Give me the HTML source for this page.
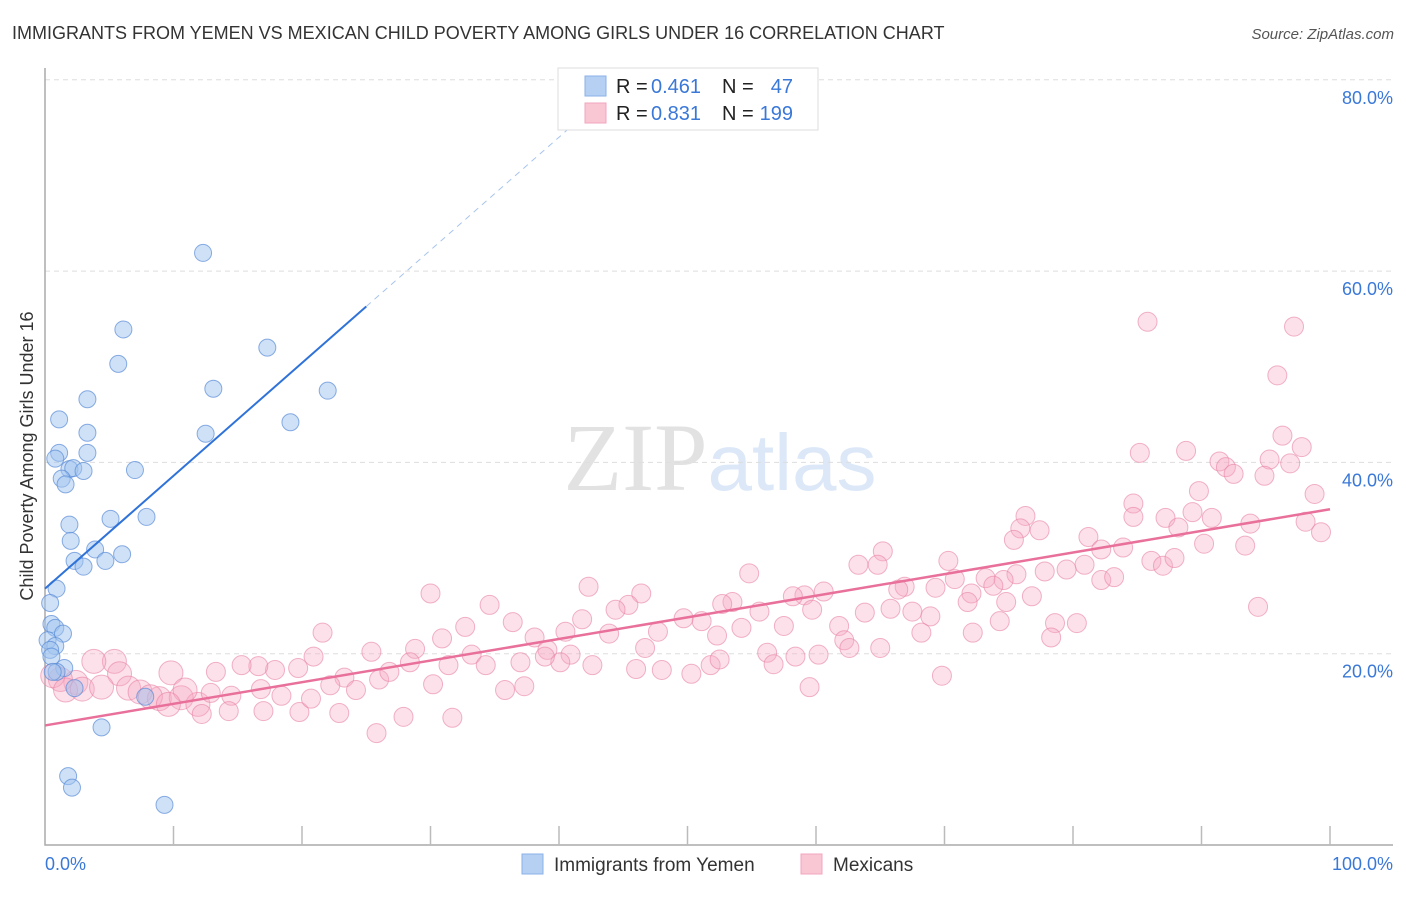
<!DOCTYPE html>
<html><head><meta charset="utf-8"><style>
body{margin:0;background:#fff;width:1406px;height:892px;overflow:hidden;font-family:"Liberation Sans",sans-serif}
</style></head><body>
<svg id="chart" width="1406" height="892" xmlns="http://www.w3.org/2000/svg" font-family="Liberation Sans, sans-serif">
<text x="12" y="39" font-size="18" fill="#333">IMMIGRANTS FROM YEMEN VS MEXICAN CHILD POVERTY AMONG GIRLS UNDER 16 CORRELATION CHART</text>
<text x="1394" y="39" font-size="15" fill="#555" font-style="italic" text-anchor="end">Source: ZipAtlas.com</text>
<text x="720" y="490" font-size="96" text-anchor="middle"><tspan fill="#e2e2e2" font-family="Liberation Serif, serif">ZIP</tspan><tspan fill="#dce8f8" font-size="80">atlas</tspan></text>
<g id="grid"></g>
<g id="axes"></g>
<g id="pink"></g>
<g id="blue"></g>
<g id="lines"></g>
<text transform="translate(33,456) rotate(-90)" font-size="18" fill="#333" text-anchor="middle">Child Poverty Among Girls Under 16</text>
<g>
<rect x="558" y="68" width="260" height="62" fill="#fff" stroke="#ddd"/>
<rect x="585" y="76" width="21" height="20" fill="#b6d0f4" stroke="#8ab2e8"/>
<rect x="585" y="103" width="21" height="20" fill="#f9c6d4" stroke="#f0a6bc"/>
<text x="616" y="93" font-size="20" fill="#222">R =</text>
<text x="651" y="93" font-size="20" fill="#3a78d8">0.461</text>
<text x="722" y="93" font-size="20" fill="#222">N =</text>
<text x="793" y="93" font-size="20" fill="#3a78d8" text-anchor="end">47</text>
<text x="616" y="120" font-size="20" fill="#222">R =</text>
<text x="651" y="120" font-size="20" fill="#3a78d8">0.831</text>
<text x="722" y="120" font-size="20" fill="#222">N =</text>
<text x="793" y="120" font-size="20" fill="#3a78d8" text-anchor="end">199</text>
</g>
<g>
<rect x="522" y="854" width="21" height="20" fill="#b6d0f4" stroke="#8ab2e8"/>
<text x="554" y="871" font-size="19" fill="#333">Immigrants from Yemen</text>
<rect x="801" y="854" width="21" height="20" fill="#f9c6d4" stroke="#f0a6bc"/>
<text x="833" y="871" font-size="19" fill="#333">Mexicans</text>
</g>
</svg>
<script>
const yTicks=[20,40,60,80];
const yTickLabels=["20.0%","40.0%","60.0%","80.0%"];
const xTicks=[0,10,20,30,40,50,60,70,80,90,100];
const blueX=[12.3,6.1,5.7,17.3,3.3,13.1,22.0,1.1,3.3,12.5,19.1,3.3,1.1,0.8,1.9,2.2,3.0,7.0,1.3,1.6,1.9,5.1,7.9,2.0,3.9,6.0,2.3,4.7,3.0,0.9,0.4,0.5,0.8,1.4,0.2,0.8,0.4,0.5,1.5,0.9,2.3,7.8,4.4,1.8,2.1,9.3,0.6];
const blueY=[61.9,53.9,50.3,52.0,46.6,47.7,47.5,44.5,43.1,43.0,44.2,41.0,41.0,40.4,39.3,39.4,39.1,39.2,38.3,37.7,33.5,34.1,34.3,31.8,30.9,30.4,29.7,29.7,29.1,26.8,25.3,23.1,22.7,22.1,21.4,20.8,20.4,19.7,18.5,18.1,16.4,15.5,12.3,7.2,6.0,4.2,18.1];
const pinkX=[85.8,97.2,95.9,96.3,97.8,85.2,88.8,91.4,91.9,92.5,95.3,96.9,94.9,89.8,98.8,84.7,87.2,90.8,93.8,98.1,99.3,76.3,75.9,77.4,75.4,81.2,82.2,83.9,88.2,89.3,90.2,93.4,86.1,87.0,87.9,80.9,79.5,77.8,82.2,83.2,75.6,73.2,74.6,70.3,65.2,63.3,64.8,70.8,66.9,66.4,69.3,72.1,73.8,76.8,74.8,94.4,54.8,59.1,60.6,58.2,53.5,55.6,51.1,52.7,46.4,45.4,44.4,42.3,34.6,32.7,30.0,36.4,38.1,33.2,30.9,28.8,21.6,25.4,28.4,26.0,23.3,20.9,19.7,17.9,16.6,15.3,18.4,14.5,13.3,9.8,5.4,3.8,5.8,2.4,1.2,0.6,1.6,2.9,4.4,6.5,7.4,8.9,10.6,11.9,12.9,14.3,12.2,19.8,22.9,27.9,25.8,31.7,31.4,34.3,37.0,39.1,40.9,42.6,43.9,46.0,48.0,50.3,51.8,52.3,54.2,56.2,57.5,59.7,61.8,62.2,60.2,59.5,63.8,65.8,67.5,68.9,68.2,65.0,62.6,69.8,72.2,74.3,78.6,78.3,80.3,41.8,40.5,47.7,40.1,37.3,30.2,26.8,24.2,22.2,16.8,20.7,10.9,8.2,9.6,17.0,52.5,49.7,56.7,58.4,71.8,84.7,46.7,38.9,35.8];
const pinkY=[54.7,54.2,49.1,42.8,41.6,41.0,41.2,40.1,39.5,38.8,40.3,39.9,38.6,37.0,36.7,35.7,34.2,34.2,33.6,33.8,32.7,34.4,33.1,32.9,31.9,32.2,30.9,31.1,33.2,34.8,31.5,31.3,29.7,29.2,30.0,29.3,28.8,28.6,27.7,28.0,28.3,27.9,27.7,29.7,30.7,29.3,29.3,27.8,27.0,26.7,26.9,26.3,27.1,26.0,25.4,24.9,28.4,26.1,26.5,26.0,25.4,24.4,23.4,25.2,26.3,25.1,24.6,27.0,25.1,22.8,26.3,23.3,21.7,19.9,21.6,20.5,22.2,20.2,19.1,17.3,17.5,19.7,18.5,18.3,18.7,18.8,15.6,15.6,18.1,18.0,19.2,19.2,17.9,17.0,17.3,17.7,16.2,16.3,16.5,16.4,16.0,15.3,15.4,14.7,15.9,14.0,13.7,13.9,13.8,13.4,11.7,13.3,18.8,18.8,19.1,20.4,19.9,18.8,22.1,18.4,18.3,17.9,18.8,21.9,22.7,20.1,22.9,24.6,22.9,21.4,19.9,16.5,24.3,24.7,24.4,23.9,22.2,20.6,20.6,17.7,22.2,23.4,23.2,21.7,23.2,23.6,22.3,22.3,19.1,16.6,16.8,18.1,16.2,16.7,16.3,15.3,16.2,15.5,14.7,14.0,19.4,23.7,18.9,19.7,25.4,34.3,20.6,19.7,16.2];
const blueLine=[26.8,1.18];
const pinkLine=[12.5,0.226];
const NS="http://www.w3.org/2000/svg";
const X=v=>45+v*12.85, Y=v=>845-v*9.565;
function mk(tag,attrs,parent){const e=document.createElementNS(NS,tag);for(const k in attrs)e.setAttribute(k,attrs[k]);document.getElementById(parent).appendChild(e);return e;}
yTicks.forEach((t,i)=>{
 const g=mk('line',{x1:45,x2:1393,y1:Y(t),y2:Y(t),stroke:'#ddd','stroke-dasharray':'5,4'},'grid');
 
 
 const l=mk('text',{x:1393,y:Y(t)+24,'font-size':18,fill:'#3a78d8','text-anchor':'end'},'axes');
 l.textContent=yTickLabels[i];
 
 
});
const ax=mk('path',{d:'M45 68V845H1393',fill:'none',stroke:'#aaa','stroke-width':1.5},'axes');


xTicks.forEach(t=>{if(t===0)return;
 const k=mk('line',{x1:X(t),x2:X(t),y1:826,y2:845,stroke:'#bbb','stroke-width':1.5},'axes');
 
 
});
const xl0=mk('text',{x:45,y:870,'font-size':18,fill:'#3a78d8'},'axes');xl0.textContent='0.0%';


const xl1=mk('text',{x:1393,y:870,'font-size':18,fill:'#3a78d8','text-anchor':'end'},'axes');xl1.textContent='100.0%';


pinkX.forEach((x,i)=>{
 const r=(x<12&&pinkY[i]<20)?12:9.5;
 const c=mk('circle',{cx:X(x),cy:Y(pinkY[i]),r:r,fill:'rgba(246,170,195,0.35)',stroke:'rgba(232,130,165,0.6)','stroke-width':1},'pink');
 
 
});
blueX.forEach((x,i)=>{
 const c=mk('circle',{cx:X(x),cy:Y(blueY[i]),r:8.5,fill:'rgba(160,196,240,0.5)',stroke:'rgba(90,140,215,0.7)','stroke-width':1},'blue');
 
 
});
const bl=mk('line',{x1:X(0),y1:Y(blueLine[0]),x2:X(25),y2:Y(blueLine[0]+25*blueLine[1]),stroke:'#2f72d8','stroke-width':2},'lines');


const bd=mk('line',{x1:X(25),y1:Y(blueLine[0]+25*blueLine[1]),x2:X(41.5),y2:Y(blueLine[0]+41.5*blueLine[1]),stroke:'#a8c4ec','stroke-width':1,'stroke-dasharray':'6,5'},'lines');


const pl=mk('line',{x1:X(0),y1:Y(pinkLine[0]),x2:X(100),y2:Y(pinkLine[0]+100*pinkLine[1]),stroke:'#e8709a','stroke-width':2.5},'lines');


</script>
</body></html>
